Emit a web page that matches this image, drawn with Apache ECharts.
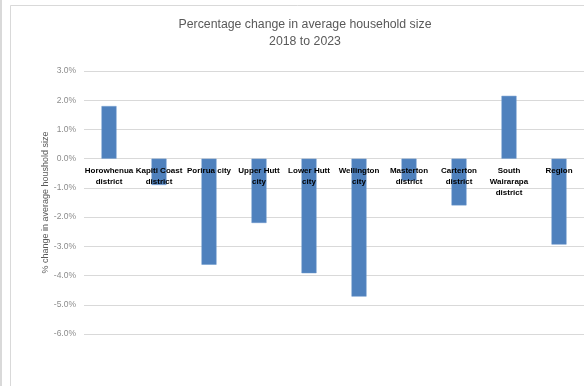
<!DOCTYPE html>
<html>
<head>
<meta charset="utf-8">
<script src="https://cdn.jsdelivr.net/npm/echarts@6/dist/echarts.min.js"></script>
<style>
  html, body { margin: 0; padding: 0; background: #ffffff; }
  #chart { width: 584px; height: 386px; }
</style>
</head>
<body>
<div id="chart"></div>
<script>
// Territorial authorities in the Wellington region
const areas = [
  'Horowhenua\ndistrict',
  'Kapiti Coast\ndistrict',
  'Porirua city',
  'Upper Hutt\ncity',
  'Lower Hutt\ncity',
  'Wellington\ncity',
  'Masterton\ndistrict',
  'Carterton\ndistrict',
  'South\nWairarapa\ndistrict',
  'Region'
];

// Percentage change in average household size, 2018 to 2023
const pctChange = [1.8, -0.9, -3.63, -2.2, -3.92, -4.72, -0.75, -1.6, 2.15, -2.94];

// Value axis ticks (percent)
const yTicks = [3, 2, 1, 0, -1, -2, -3, -4, -5, -6];

const yMax = yTicks[0];
const yMin = yTicks[yTicks.length - 1];

// Plot area geometry
const gridTop = 71, gridBottom = 52, chartH = 386;
const plotH = chartH - gridTop - gridBottom;
// Lift the category axis so its labels sit just under the zero line
const zeroLift = -((0 - yMin) / (yMax - yMin)) * plotH;

const chart = echarts.init(document.getElementById('chart'), null, { renderer: 'canvas' });

chart.setOption({
  animation: false,
  backgroundColor: '#ffffff',
  title: {
    text: 'Percentage change in average household size\n2018 to 2023',
    left: 300,
    textAlign: 'center',
    top: 11,
    textStyle: {
      fontFamily: 'Liberation Sans',
      fontSize: 12.3,
      fontWeight: 'normal',
      color: '#595959',
      lineHeight: 17
    }
  },
  graphic: [
    { type: 'rect', shape: { x: 0, y: 0, width: 2, height: 386 }, style: { fill: '#d9d9d9' }, silent: true },
    { type: 'polyline', shape: { points: [[10.5, 386], [10.5, 5.5], [584, 5.5]] },
      style: { stroke: '#d9d9d9', lineWidth: 1, fill: null }, silent: true }
  ],
  grid: { left: 84, right: 0, top: gridTop, bottom: gridBottom },
  xAxis: {
    type: 'category',
    data: areas,
    z: 10,
    offset: zeroLift,
    axisLine: { show: false, onZero: false },
    axisTick: { show: false },
    axisLabel: {
      interval: 0,
      margin: 7,
      fontFamily: 'Liberation Sans',
      fontSize: 8,
      fontWeight: 'bold',
      color: '#000000',
      lineHeight: 11
    }
  },
  yAxis: {
    type: 'value',
    min: yMin,
    max: yMax,
    interval: 1,
    name: '% change in average houshold size',
    nameLocation: 'middle',
    nameGap: 34,
    nameMoveOverlap: false,
    nameTextStyle: {
      fontFamily: 'Liberation Sans',
      fontSize: 9,
      color: '#595959'
    },
    axisLine: { show: false },
    axisTick: { show: false },
    splitLine: { lineStyle: { color: '#d9d9d9', width: 1 } },
    axisLabel: {
      margin: 8,
      fontFamily: 'Liberation Sans',
      fontSize: 8.5,
      color: '#8c8c8c',
      formatter: v => v.toFixed(1) + '%'
    }
  },
  series: [{
    type: 'bar',
    data: pctChange,
    barWidth: 15,
    itemStyle: { color: '#4f81bd', borderColor: '#6a96cc', borderWidth: 0.5 }
  }]
});
</script>
</body>
</html>
